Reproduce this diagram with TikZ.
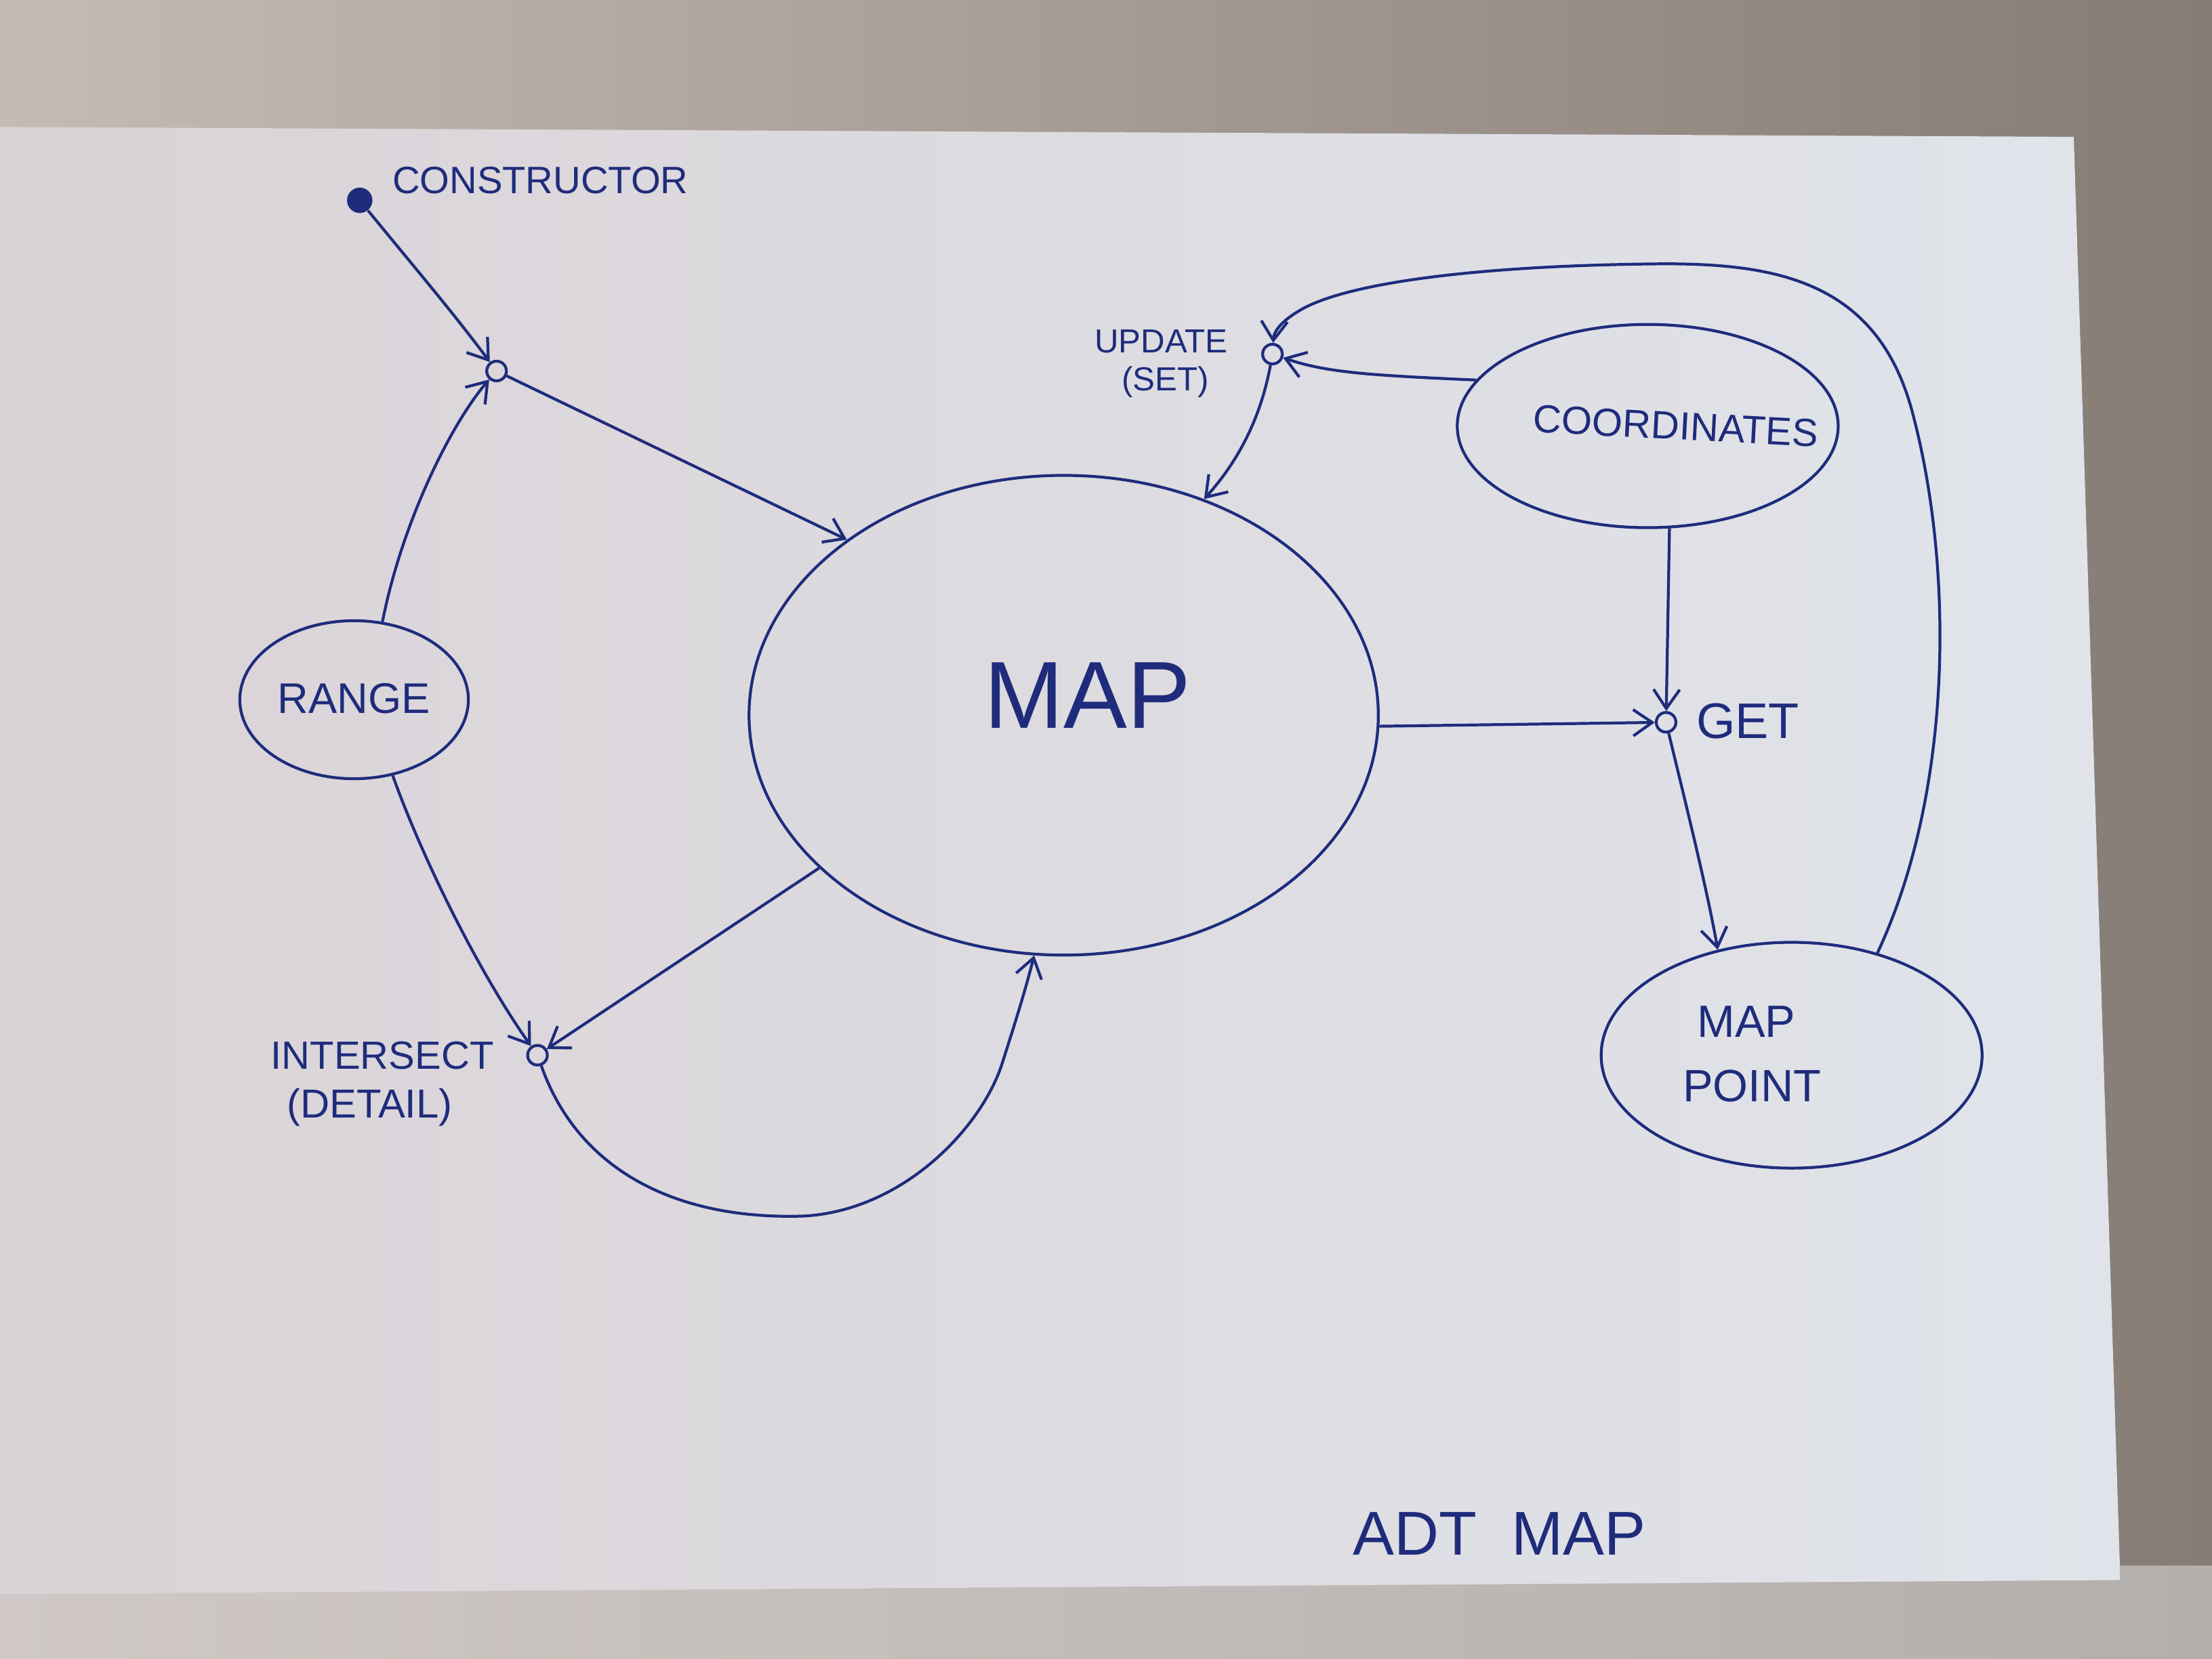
\documentclass[tikz,border=0pt]{standalone}
\usepackage{fontspec}
\setmainfont{Liberation Sans}
\usetikzlibrary{shapes.geometric,arrows.meta}
\definecolor{ink}{HTML}{1F2C7C}
\definecolor{wallL}{HTML}{C6BBB2}
\definecolor{wallR}{HTML}{857C75}
\definecolor{floorL}{HTML}{CFC8C6}
\definecolor{floorR}{HTML}{B3AFAC}
\definecolor{paperL}{HTML}{DAD3D7}
\definecolor{paperM}{HTML}{E8ECF2}
\definecolor{paperR}{HTML}{E0E4EA}
\tikzset{
  pen/.style={draw=ink, line width=1.2pt},
  arr/.style={pen, -{Straight Barb[length=8pt,width=11pt]}},
  junc/.style={circle, draw=ink, line width=1.2pt, minimum size=0.29cm, inner sep=0pt},
  blob/.style={ellipse, draw=ink, line width=1.2pt, inner sep=0pt},
  hand/.style={text=ink, inner sep=0pt},
}
\begin{document}
\begin{tikzpicture}[x=0.020816cm, y=-0.020816cm]
\useasboundingbox (0,0) rectangle (1568,1176);
% photo background: wall and paper sheet
\shade[left color=wallL, right color=wallR] (0,0) rectangle (1568,1176);
\shade[left color=floorL, right color=floorR] (0,1110) rectangle (1568,1176);
\shade[left color=paperL, middle color=paperM, right color=paperR]
  (0,90) -- (1470,97) -- (1503,1120) -- (0,1130) -- cycle;

% ellipses
\node[blob, minimum width=9.284cm, minimum height=7.077cm] (map) at (754,507) {};
\node[blob, minimum width=3.372cm, minimum height=2.331cm] (range) at (251,496) {};
\node[blob, minimum width=5.620cm, minimum height=2.998cm] (coords) at (1168,302) {};
\node[blob, minimum width=5.620cm, minimum height=3.331cm] (mpoint) at (1270,748) {};

% junction points
\node[circle, fill=ink, minimum size=0.375cm, inner sep=0pt] (dot) at (255,142) {};
\node[junc] (cjunc) at (352,263) {};
\node[junc] (upd) at (902,251) {};
\node[junc] (get) at (1181,512) {};
\node[junc] (isect) at (381,748) {};

% texts
\node[hand, font=\fontsize{16}{18}\selectfont] (tcons) at (383,128) {CONSTRUCTOR};
\node[hand, font=\fontsize{14}{16}\selectfont] (tupd) at (823,242) {UPDATE};
\node[hand, font=\fontsize{14}{16}\selectfont] (tset) at (826,271) {(SET)};
\node[hand, font=\fontsize{16.5}{18}\selectfont, rotate=-3] (tcoords) at (1188,302) {COORDINATES};
\node[hand, font=\fontsize{18}{20}\selectfont] (trange) at (251,495) {RANGE};
\node[hand, font=\fontsize{40}{44}\selectfont] (tmap) at (771,493) {MAP};
\node[hand, font=\fontsize{21}{24}\selectfont] (tget) at (1239,511) {GET};
\node[hand, font=\fontsize{16.5}{18}\selectfont] (tisect) at (271,748) {INTERSECT};
\node[hand, font=\fontsize{17}{19}\selectfont] (tdetail) at (262,785) {(DETAIL)};
\node[hand, font=\fontsize{19}{21}\selectfont] (tmp1) at (1238,724) {MAP};
\node[hand, font=\fontsize{19}{21}\selectfont] (tmp2) at (1242,770) {POINT};
\node[hand, font=\fontsize{26}{30}\selectfont] (tadt) at (1063,1087) {ADT\ \ MAP};

% connectors
\draw[arr] (dot) .. controls (290,185) and (320,220) .. (cjunc);
\draw[arr] (range.70) .. controls (285,370) and (320,300) .. (cjunc);
\draw[arr] (cjunc) -- (map.141);
\draw[arr] (coords.165) .. controls (970,266) and (940,264) .. (upd);
\draw[arr] (upd) .. controls (893,300) and (875,330) .. (map.57);
\draw[arr] (mpoint.50) .. controls (1385,560) and (1385,400) .. (1355,290)
  .. controls (1330,200) and (1260,187) .. (1180,187)
  .. controls (1050,188) and (960,200) .. (925,218)
  .. controls (910,226) and (903,234) .. (upd);
\draw[arr] (map.358) -- (get);
\draw[arr] (coords.282) -- (get);
\draw[arr] (get) .. controls (1195,570) and (1210,630) .. (mpoint.125);
\draw[arr] (range.297) .. controls (300,610) and (340,690) .. (isect);
\draw[arr] (map.212) -- (isect);
\draw[arr] (isect.-70) .. controls (410,830) and (480,865) .. (570,862)
  .. controls (640,858) and (695,800) .. (710,755)
  .. controls (718,730) and (726,705) .. (map.263);
\end{tikzpicture}
\end{document}
